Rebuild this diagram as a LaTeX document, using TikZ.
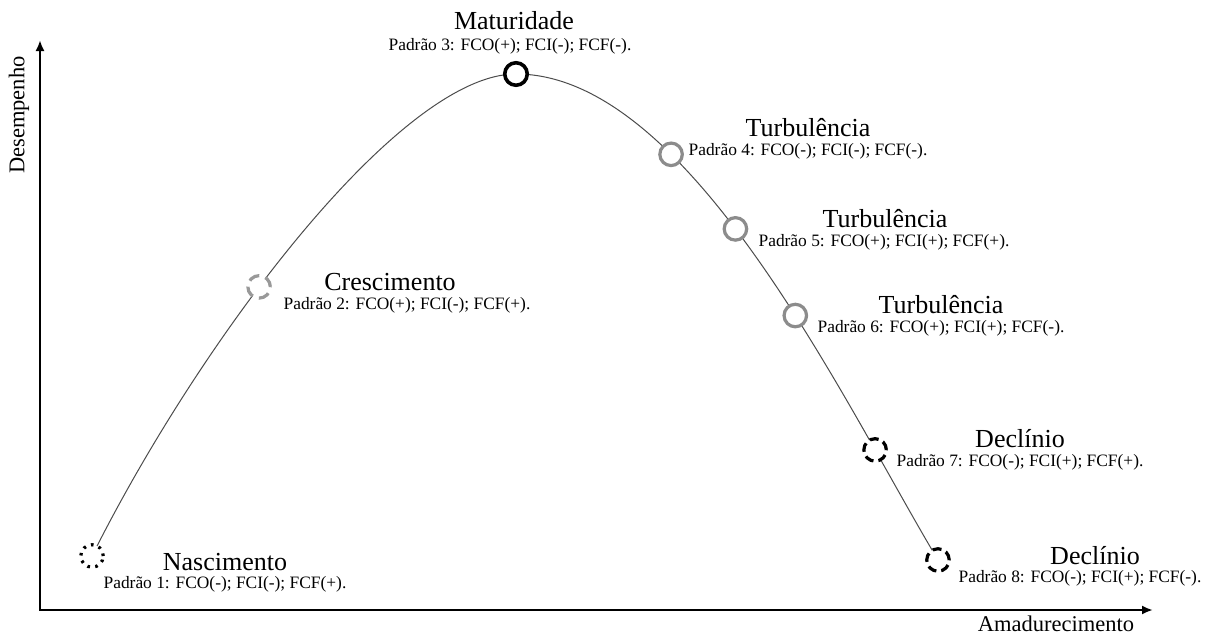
\documentclass[tikz,border=0pt]{standalone}
\usepackage{fontspec}
\setmainfont{Liberation Serif}
\usetikzlibrary{arrows.meta}
\begin{document}
\begin{tikzpicture}[x=1pt,y=-1pt,
  ttl/.style={font=\fontsize{26}{29}\selectfont, inner sep=0pt},
  sub/.style={font=\fontsize{17.4}{20}\selectfont, inner sep=0pt},
  axlbl/.style={font=\fontsize{22.5}{25}\selectfont, inner sep=0pt},
  axis/.style={line width=2.6pt, {Latex[length=11pt,width=9pt]}-{Latex[length=11pt,width=9pt]}},
  curve/.style={line width=1pt, draw=black!70},
  mk/.style={circle, minimum size=22.5pt, inner sep=0pt, fill=white, line width=3.2pt},
  nasc/.style={mk, draw=black, dash pattern=on 2.6pt off 5.4pt},
  cresc/.style={mk, draw=black!40, dash pattern=on 11pt off 6.5pt},
  matur/.style={mk, draw=black, line width=3.6pt},
  turb/.style={mk, draw=black!45},
  decl/.style={mk, draw=black, dash pattern=on 9pt off 5pt}]
\useasboundingbox (0,0) rectangle (1210,637);
% axes
\coordinate (ytop) at (40,40);
\coordinate (O) at (40,610);
\coordinate (xend) at (1153,610);
\draw[axis] (ytop) -- (O) -- (xend);
\node[axlbl, rotate=90] (ylab) at (19,115) {Desempenho};
\node[axlbl] (xlab) at (1056,624) {Amadurecimento};
% curve
\coordinate (c1) at (92,556);
\coordinate (c3) at (516,74);
\coordinate (c8) at (938,560);
\draw[curve] (c1) .. controls (200,340) and (400,74) .. (c3)
  node[cresc, pos=0.41] (n2) {};
\draw[curve] (c3) .. controls (690,74) and (845,405) .. (c8)
  node[turb, pos=0.31] (n4) {}
  node[turb, pos=0.45] (n5) {}
  node[turb, pos=0.59] (n6) {}
  node[decl, pos=0.80] (n7) {};
\node[nasc] (n1) at (c1) {};
\node[matur] (n3) at (c3) {};
\node[decl] (n8) at (c8) {};
% labels
\node[ttl] (t1) at (225,562) {Nascimento};
\node[sub] (s1) at (225,584) {Padrão 1: FCO(-); FCI(-); FCF(+).};
\node[ttl] (t2) at (390,282) {Crescimento};
\node[sub] (s2) at (407,305) {Padrão 2: FCO(+); FCI(-); FCF(+).};
\node[ttl] (t3) at (514,21) {Maturidade};
\node[sub] (s3) at (510,46) {Padrão 3: FCO(+); FCI(-); FCF(-).};
\node[ttl] (t4) at (808,128) {Turbulência};
\node[sub] (s4) at (808,151) {Padrão 4: FCO(-); FCI(-); FCF(-).};
\node[ttl] (t5) at (885,219) {Turbulência};
\node[sub] (s5) at (884,242) {Padrão 5: FCO(+); FCI(+); FCF(+).};
\node[ttl] (t6) at (941,305) {Turbulência};
\node[sub] (s6) at (941,328) {Padrão 6: FCO(+); FCI(+); FCF(-).};
\node[ttl] (t7) at (1020,439) {Declínio};
\node[sub] (s7) at (1020,462) {Padrão 7: FCO(-); FCI(+); FCF(+).};
\node[ttl] (t8) at (1095,556) {Declínio};
\node[sub] (s8) at (1080,578) {Padrão 8: FCO(-); FCI(+); FCF(-).};
\end{tikzpicture}
\end{document}
